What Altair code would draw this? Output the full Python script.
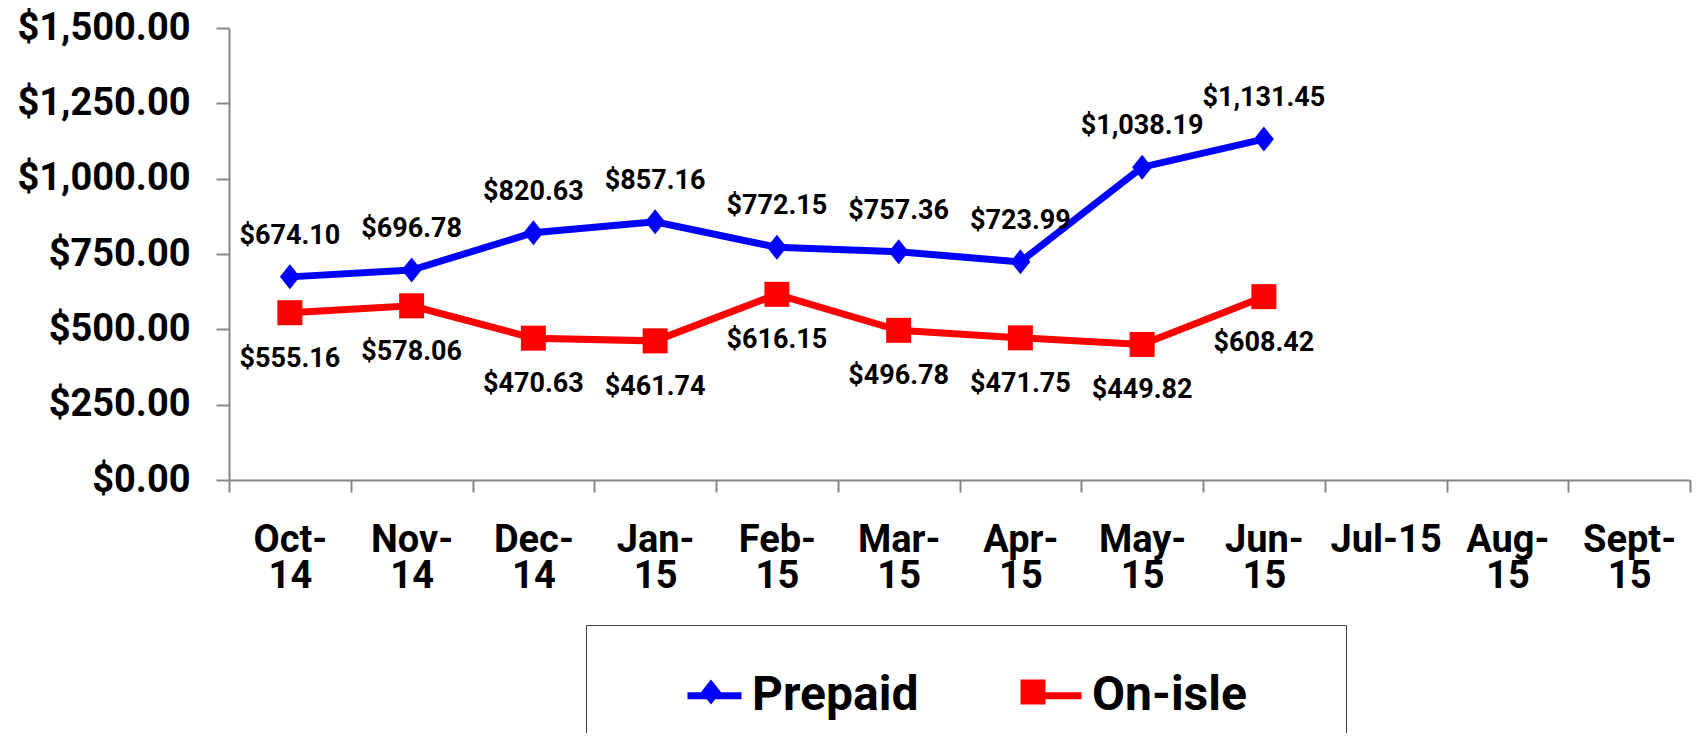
import altair as alt
import pandas as pd

# ---- data ----
months = ["Oct-14", "Nov-14", "Dec-14", "Jan-15", "Feb-15", "Mar-15",
          "Apr-15", "May-15", "Jun-15", "Jul-15", "Aug-15", "Sept-15"]
prepaid = [674.10, 696.78, 820.63, 857.16, 772.15, 757.36, 723.99, 1038.19, 1131.45]
onisle = [555.16, 578.06, 470.63, 461.74, 616.15, 496.78, 471.75, 449.82, 608.42]
series_names = ["Prepaid", "On-isle"]
series_colors = ["#0000FF", "#FF0000"]
y_ticks = [0, 250, 500, 750, 1000, 1250, 1500]

rows = []
for i, (m, v) in enumerate(zip(months, prepaid)):
    rows.append({"month": m, "idx": i, "series": "Prepaid", "value": v})
for i, (m, v) in enumerate(zip(months, onisle)):
    rows.append({"month": m, "idx": i, "series": "On-isle", "value": v})
df = pd.DataFrame(rows)

FONT = "Roboto"
AXIS_GRAY = "#868686"
SYM = 2916  # 54 px symbol box
DIAMOND = "M -0.37 0 L 0 -0.463 L 0.37 0 L 0 0.463 Z"
SQUARE = "M -0.463 -0.463 L 0.463 -0.463 L 0.463 0.463 L -0.463 0.463 Z"

x_enc = alt.X(
    "month:N",
    scale=alt.Scale(type="band", domain=months, paddingInner=0, paddingOuter=0),
    axis=alt.Axis(
        title=None, labelAngle=0, tickBand="extent",
        labelExpr="(datum.label == '' || datum.label == 'Jul-15') ? datum.label : [split(datum.label, '-')[0] + '-', split(datum.label, '-')[1]]",
        labelFont=FONT, labelFontSize=38, labelFontWeight="bold", labelColor="black",
        labelLineHeight=36, labelPadding=29, tickSize=12,
        domainColor=AXIS_GRAY, tickColor=AXIS_GRAY, domainWidth=2, tickWidth=2,
    ),
)
y_enc = alt.Y(
    "value:Q",
    scale=alt.Scale(domain=[0, 1500], nice=False),
    axis=alt.Axis(
        title=None, grid=False, values=y_ticks, format="$,.2f",
        labelFont=FONT, labelFontSize=38, labelFontWeight="bold", labelColor="black",
        labelPadding=26, tickSize=13,
        domainColor=AXIS_GRAY, tickColor=AXIS_GRAY, domainWidth=2, tickWidth=2,
    ),
)

PAD_TAIL = "\u00a0\u00a0\u2800"


def legend_props(**extra):
    base = dict(
        orient="none", legendX=357, legendY=597, direction="horizontal",
        title="\u2003", titleOrient="left", titleFontSize=10, titlePadding=58,
        padding=40, labelFont=FONT, labelFontSize=48, labelFontWeight="bold",
        labelColor="black", labelLimit=600, labelOffset=7, columnPadding=94,
        symbolSize=SYM,
        labelExpr="datum.label == 'On-isle' ? datum.label + '" + PAD_TAIL + "' : (datum.label == 'pad' ? '' : datum.label)",
    )
    base.update(extra)
    return alt.Legend(**base)


lines = alt.Chart(df).mark_line(strokeWidth=7).encode(
    x=x_enc,
    y=y_enc,
    order=alt.Order("idx:Q"),
    stroke=alt.Stroke(
        "series:N",
        scale=alt.Scale(domain=series_names, range=series_colors),
        legend=legend_props(symbolType="stroke", symbolStrokeWidth=7, strokeColor="#404040"),
    ),
)

points = alt.Chart(df).mark_point(filled=True, size=SYM, strokeWidth=0, opacity=1).encode(
    x=x_enc,
    y=y_enc,
    fill=alt.Fill(
        "series:N",
        scale=alt.Scale(domain=series_names + ["pad"], range=series_colors + ["rgba(0,0,0,0)"]),
        legend=legend_props(symbolStrokeWidth=0, labelOpacity=0),
    ),
    shape=alt.Shape(
        "series:N",
        scale=alt.Scale(domain=series_names + ["pad"], range=[DIAMOND, SQUARE, SQUARE]),
        legend=legend_props(symbolStrokeWidth=0, labelOpacity=0),
    ),
)

text_common = dict(font=FONT, fontSize=27, fontWeight="bold", color="black")
labels_top = alt.Chart(df).transform_filter(alt.datum.series == "Prepaid").mark_text(
    dy=-41, **text_common
).encode(x=x_enc, y=y_enc, text=alt.Text("value:Q", format="$,.2f"))
labels_bottom = alt.Chart(df).transform_filter(alt.datum.series == "On-isle").mark_text(
    dy=46, **text_common
).encode(x=x_enc, y=y_enc, text=alt.Text("value:Q", format="$,.2f"))

chart = alt.layer(lines, points, labels_top, labels_bottom).properties(
    width=1461,
    height=452,
    autosize=alt.AutoSizeParams(type="none"),
    padding={"left": 221, "top": 20, "right": 3, "bottom": 253},
    background="white",
).configure_view(stroke=None)

chart.save("out.html", embed_options={"renderer": "svg", "actions": False})
